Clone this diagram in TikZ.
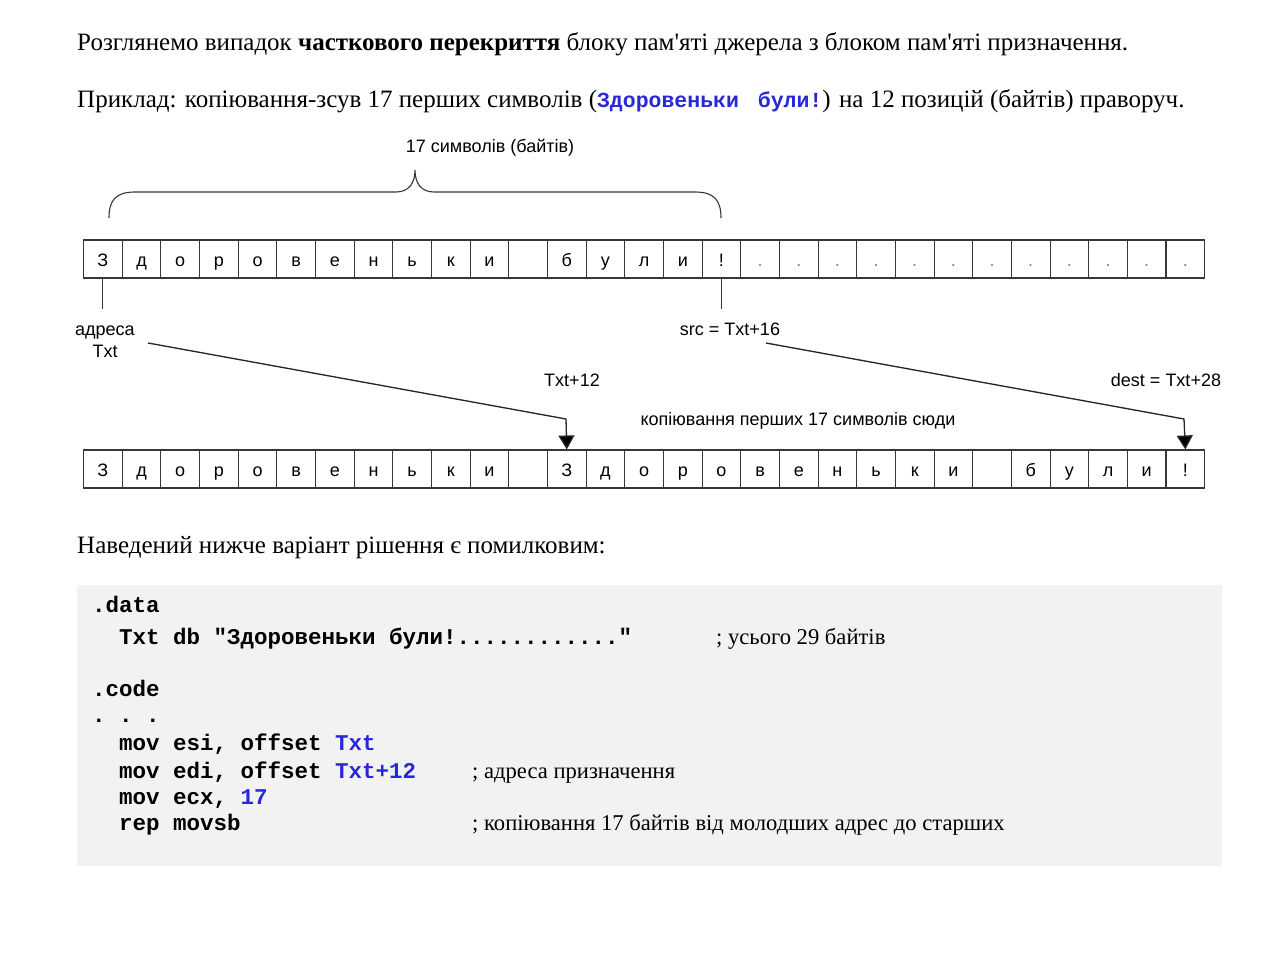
\documentclass[tikz,border=0pt]{standalone}
\usepackage{fontspec}
\setmainfont{Liberation Serif}[Ligatures=TeXOff]
\setsansfont{Liberation Sans}
\setmonofont{Liberation Mono}
\usetikzlibrary{positioning,arrows.meta}
\definecolor{codeblue}{RGB}{40,40,215}
\definecolor{codegrey}{RGB}{242,242,242}
\definecolor{linegrey}{RGB}{55,55,55}

\begin{document}
\begin{tikzpicture}[x=1pt,y=-1pt,
	cellnode/.style={draw=linegrey, line width=1.1pt, minimum width=38.66pt, minimum height=38pt, inner sep=0pt, text height=16pt, text depth=1pt, anchor=west, font=\sffamily\fontsize{18}{20}\selectfont},
	labelnode/.style={font=\sffamily\fontsize{18}{20}\selectfont, anchor=base, inner sep=0pt},
	bodytext/.style={font=\fontsize{25}{28}\selectfont, anchor=base west, inner sep=0pt},
	commenttext/.style={font=\fontsize{22.6}{26}\selectfont, anchor=base west, inner sep=0pt},
	codetext/.style={font=\ttfamily\bfseries\fontsize{22.5}{24}\selectfont, anchor=base west, inner sep=0pt},
	pointer/.style={draw=black!85, line width=1.3pt, -{Triangle[width=16pt,length=14pt,fill=black]}},
	]
	\useasboundingbox (0,0) rectangle (1280,955);
	\fill[white] (0,0) rectangle (1280,955);
	
	%Text
	\node[bodytext] (intro) at (77,51) {Розглянемо випадок \textbf{часткового перекриття} блоку пам'яті джерела з блоком пам'яті призначення.};
	\node[bodytext] (example) at (77,108) {Приклад: копіювання-зсув 17 перших символів ({\ttfamily\bfseries\fontsize{21.5}{24}\selectfont\color{codeblue}Здоровеньки\kern6pt{} були!}) на 12 позицій (байтів) праворуч.};
	
	%Cells
	\foreach \c [count=\i] in {З,д,о,р,о,в,е,н,ь,к,и,{},б,у,л,и,!}
		\node[cellnode] (t\i) at ({83+(\i-1)*38.66},259) {\c};
	\foreach \i in {18,...,29}
		\node[cellnode, text=gray] (t\i) at ({83+(\i-1)*38.66},259) {.};
	\foreach \c [count=\i] in {З,д,о,р,о,в,е,н,ь,к,и,{},З,д,о,р,о,в,е,н,ь,к,и,{},б,у,л,и,!}
		\node[cellnode] (b\i) at ({83+(\i-1)*38.66},469) {\c};
	
	%Brace
	\node[labelnode] (count) at (490,153) {17 символів (байтів)};
	\draw[draw=linegrey, line width=1.1pt] (109,218) .. controls (109,200) and (116,192) .. (135,192) -- (396,192)
		.. controls (409,192) and (415,183) .. (415,170) .. controls (415,183) and (421,192) .. (434,192) -- (695,192)
		.. controls (714,192) and (721,200) .. (721,218);
	
	%Labels
	\node[labelnode, align=center] (addr) at (105,357) {адреса\\[2pt]Txt};
	\node[labelnode] (src) at (730,335) {src = Txt+16};
	\node[labelnode] (dst12) at (572,386) {Txt+12};
	\node[labelnode] (dest) at (1166,386) {dest = Txt+28};
	\node[labelnode] (copyhere) at (798,425) {копіювання перших 17 символів сюди};
	
	%Lines
	\draw[draw=linegrey, line width=1.1pt] (t1.south) -- ++(0,30);
	\draw[draw=linegrey, line width=1.1pt] (t17.south) -- ++(0,30);
	\coordinate (txtstart) at (148,343);
	\coordinate (txtbend) at (566,419);
	\coordinate (srcstart) at (766,343);
	\coordinate (srcbend) at (1184,419);
	\draw[pointer] (txtstart) -- (txtbend) -- (b13.north);
	\draw[pointer] (srcstart) -- (srcbend) -- (b29.north);
	
	%Code
	\node[bodytext] (wrong) at (77,553) {Наведений нижче варіант рішення є помилковим:};
	\fill[codegrey] (77,585) rectangle (1222,866);
	\node[codetext] (data) at (92,612) {.data};
	\node[codetext] (txtdb) at (119,644) {Txt db "Здоровеньки були!............"};
	\node[commenttext] (c1) at (716,644) {; усього 29 байтів};
	\node[codetext] (code) at (92,696) {.code};
	\node[codetext] (dots) at (92,722) {.~.~.};
	\node[codetext] (l1) at (119,750) {mov esi, offset {\color{codeblue}Txt}};
	\node[codetext] (l2) at (119,778) {mov edi, offset {\color{codeblue}Txt+12}};
	\node[commenttext] (c2) at (472,778) {; адреса призначення};
	\node[codetext] (l3) at (119,804) {mov ecx, {\color{codeblue}17}};
	\node[codetext] (l4) at (119,830) {rep movsb};
	\node[commenttext] (c3) at (472,830) {; копіювання 17 байтів від молодших адрес до старших};
\end{tikzpicture}
\end{document}
